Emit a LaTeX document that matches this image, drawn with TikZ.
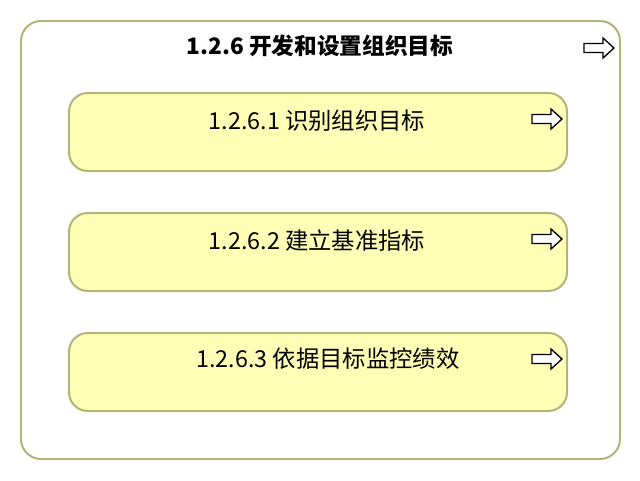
\documentclass[tikz,border=0pt]{standalone}
\usepackage{fontspec}
\setmainfont{Noto Sans CJK SC}
\usetikzlibrary{positioning}
\definecolor{goalborder}{RGB}{180,180,122}
\definecolor{goalfill}{RGB}{255,255,181}

\tikzset{
  outerbox/.style={draw=goalborder, line width=1.5pt, rounded corners=15pt, fill=white},
  goalbox/.style={draw=goalborder, line width=1.5pt, rounded corners=14pt, fill=goalfill},
  goaltext/.style={font=\fontsize{17.5}{20}\selectfont},
  pics/flowarrow/.style={code={
    \draw[black, line width=1pt, fill=white, line join=miter]
      (0,-4.5) -- (19,-4.5) -- (19,-10) -- (30,0) -- (19,10) -- (19,4.5) -- (0,4.5) -- cycle;
  }}
}

\begin{document}
\begin{tikzpicture}[x=0.75pt, y=-0.75pt]
  \useasboundingbox (0,0) rectangle (640,480);

  % Outer process
  \draw[outerbox] (21,21) rectangle (620,459);
  \node[font=\bfseries\fontsize{17}{20}\selectfont] (main) at (320,46) {1.2.6 开发和设置组织目标};
  \pic (mainarrow) at (584,48) {flowarrow};

  % Sub processes
  \draw[goalbox] (69,93) rectangle (567,171);
  \node[goaltext] (goalA) at (317,121) {1.2.6.1 识别组织目标};
  \pic (arrowA) at (532,119) {flowarrow};

  \draw[goalbox] (69,213) rectangle (567,291);
  \node[goaltext] (goalB) at (317,241) {1.2.6.2 建立基准指标};
  \pic (arrowB) at (532,239) {flowarrow};

  \draw[goalbox] (69,333) rectangle (567,411);
  \node[goaltext] (goalC) at (328,359) {1.2.6.3 依据目标监控绩效};
  \pic (arrowC) at (532,359) {flowarrow};
\end{tikzpicture}
\end{document}
